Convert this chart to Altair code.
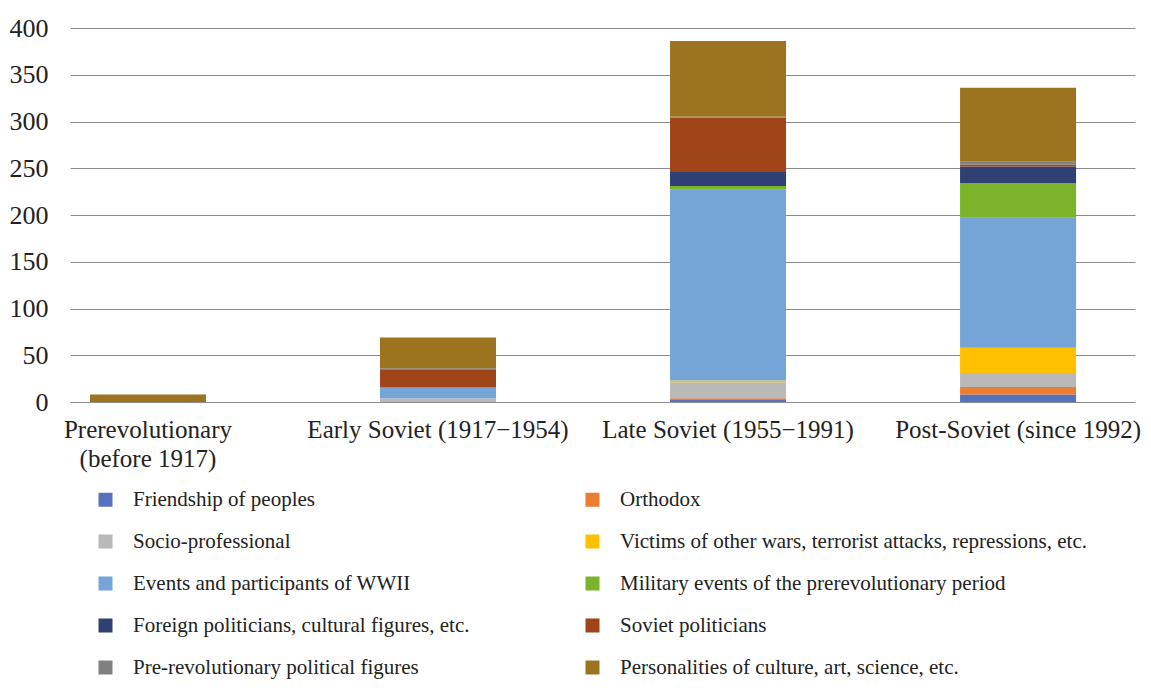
import altair as alt
import pandas as pd

periods = [
    "Prerevolutionary (before 1917)",
    "Early Soviet (1917\u22121954)",
    "Late Soviet (1955\u22121991)",
    "Post-Soviet (since 1992)",
]

series = [
    "Friendship of peoples",
    "Orthodox",
    "Socio-professional",
    "Victims of other wars, terrorist attacks, repressions, etc.",
    "Events and participants of WWII",
    "Military events of the prerevolutionary period",
    "Foreign politicians, cultural figures, etc.",
    "Soviet politicians",
    "Pre-revolutionary political figures",
    "Personalities of culture, art, science, etc.",
]

colors = [
    "#5572BC", "#ED7D31", "#B9B9B9", "#FFC000", "#75A5D6",
    "#7BB32A", "#2E4074", "#A0441A", "#808080", "#9C7420",
]

friendship = [0, 0, 3, 8]
orthodox = [0, 0, 1, 8]
socio_professional = [0, 4, 17, 15]
victims = [0, 0, 2, 27]
wwii = [0, 11, 204, 139]
military_prerev = [0, 1, 4, 37]
foreign = [0, 0, 15, 18]
soviet_politicians = [0, 19, 58, 2]
prerev_political = [0, 1, 1, 3]
personalities = [8, 33, 81, 79]

values = [friendship, orthodox, socio_professional, victims, wwii,
          military_prerev, foreign, soviet_politicians, prerev_political,
          personalities]

rows = []
for i, (s, vals) in enumerate(zip(series, values)):
    for p, v in zip(periods, vals):
        rows.append({"period": p, "series": s, "idx": i, "value": v})
df = pd.DataFrame(rows)

FONT = "Liberation Serif, Times New Roman, serif"

chart = alt.Chart(df).mark_bar(stroke=None).encode(
    x=alt.X(
        "period:N",
        sort=periods,
        scale=alt.Scale(domain=periods, paddingInner=0.6, paddingOuter=0.136, align=0.253),
        axis=alt.Axis(
            title=None, labelAngle=0, ticks=False, domain=False, grid=False,
            labelFont=FONT, labelFontSize=25, labelColor="#222222",
            labelPadding=15, labelLimit=0, labelLineHeight=29,
            labelExpr="datum.label == 'Prerevolutionary (before 1917)' ? ['Prerevolutionary', '(before 1917)'] : datum.label",
        ),
    ),
    y=alt.Y(
        "value:Q",
        stack="zero",
        scale=alt.Scale(domain=[0, 400], nice=False),
        axis=alt.Axis(
            title=None, values=[0, 50, 100, 150, 200, 250, 300, 350, 400],
            ticks=False, domain=False, grid=True, gridColor="#8c8c8c", gridWidth=1,
            labelFont=FONT, labelFontSize=26, labelColor="#222222", labelPadding=22,
        ),
    ),
    color=alt.Color(
        "series:N",
        scale=alt.Scale(domain=series, range=colors),
        legend=alt.Legend(
            title=None, orient="none", legendX=25, legendY=461, columns=2,
            direction="horizontal",
            symbolType="square", symbolSize=196, symbolStrokeWidth=0,
            labelFont=FONT, labelFontSize=21, labelColor="#222222",
            labelOffset=17, rowPadding=20, columnPadding=112, labelLimit=0,
            padding=0,
        ),
    ),
    order=alt.Order("idx:Q", sort="ascending"),
).properties(
    width=1065,
    height=374,
    autosize=alt.AutoSizeParams(type="none"),
    padding={"left": 62, "top": 20, "right": 8, "bottom": 280},
).configure_view(stroke=None)

chart.save("out.html", embed_options={"renderer": "svg", "actions": False})
